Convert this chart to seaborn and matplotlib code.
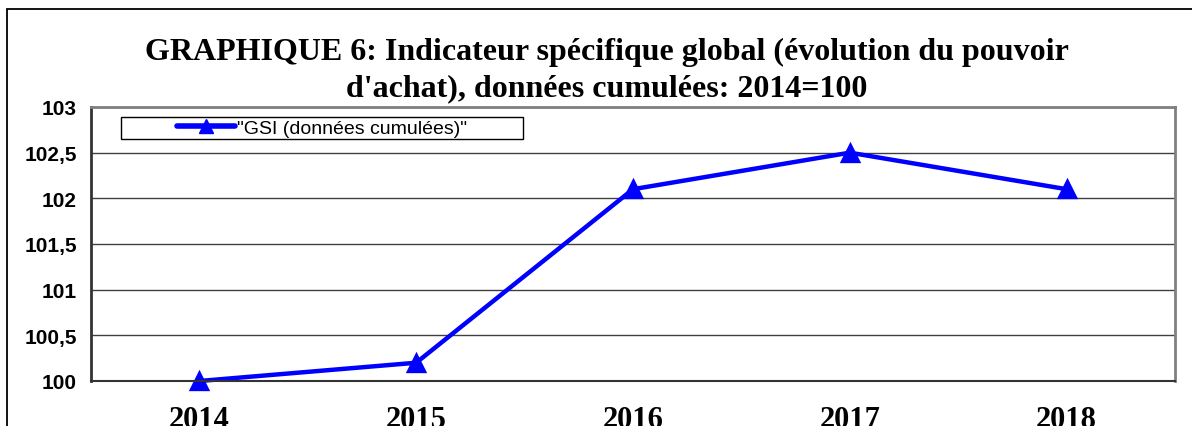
import numpy as np
import pandas as pd
import seaborn as sns
from matplotlib import pyplot as plt
from matplotlib.patches import Rectangle
from matplotlib.ticker import FuncFormatter

years = ["2014", "2015", "2016", "2017", "2018"]
gsi_values = [100.0, 100.2, 102.1, 102.5, 102.1]
series_label = '"GSI (données cumulées)"'
title_lines = ["GRAPHIQUE 6: Indicateur spécifique global (évolution du pouvoir",
               "d'achat), données cumulées: 2014=100"]

sns.set_style("white")
plt.rcParams["font.family"] = ["Liberation Sans", "DejaVu Sans"]
plt.rcParams["text.color"] = "black"
plt.rcParams["xtick.color"] = "black"
plt.rcParams["ytick.color"] = "black"

W, H = 1192, 427
fig = plt.figure(figsize=(W / 100, H / 100), dpi=100)
fig.patch.set_facecolor("white")

# outer chart border (runs off the right/bottom edges)
fig.patches.append(Rectangle((7 / W, -0.2), 1.2, 1 - 10 / H + 0.2,
                             transform=fig.transFigure, fill=False,
                             edgecolor="black", linewidth=1.3))

for i, line in enumerate(title_lines):
    fig.text(607 / W, 1 - (60 + 36 * i) / H, line, ha="center",
             va="baseline", family="Liberation Serif", fontweight="bold",
             fontsize=23, color="black")

ax = fig.add_axes([91 / W, (H - 382) / H, (1175 - 91) / W, (382 - 108) / H])
df = pd.DataFrame({"year": years, "gsi": gsi_values})
sns.pointplot(data=df, x="year", y="gsi", color="#0000FF", markers="^",
              markersize=11, linewidth=3.2, ax=ax)
for ln in ax.lines:
    ln.set_clip_on(False)

ax.set_xlim(-0.5, len(years) - 0.5)
ax.set_ylim(100, 103)
ax.set_yticks(np.arange(100, 103.01, 0.5))
ax.yaxis.set_major_formatter(FuncFormatter(
    lambda v, p: (f"{v:g}").replace(".", ",")))
ax.set_xlabel("")
ax.set_ylabel("")
ax.grid(axis="y", color="#404040", linewidth=1.0)
ax.set_axisbelow(True)

ax.set_xticks(np.arange(len(years)))
ax.set_xticklabels(years, family="Liberation Serif", fontweight="bold",
                   fontsize=22, color="black")
ax.set_xticks(np.arange(-0.5, len(years)), minor=True)
ax.tick_params(axis="x", which="major", length=0, pad=17)
ax.tick_params(axis="x", which="minor", length=8, width=1, color="black",
               direction="out")
ax.tick_params(axis="y", length=6, width=1.5, color="#333333",
               direction="out", pad=4)
for lab in ax.get_yticklabels():
    lab.set_fontweight("bold")
    lab.set_fontsize(15)
    lab.set_color("black")

ax.spines["left"].set_color("#333333")
ax.spines["left"].set_linewidth(2)
ax.spines["bottom"].set_color("#333333")
ax.spines["bottom"].set_linewidth(1.5)
ax.spines["top"].set_color("#808080")
ax.spines["top"].set_linewidth(2)
ax.spines["right"].set_color("#808080")
ax.spines["right"].set_linewidth(2)

# legend box
bx0, bx1 = (121 - 91) / 1084, (523 - 91) / 1084
by0, by1 = (382 - 140) / 274, (382 - 118) / 274
ax.add_patch(Rectangle((bx0, by0), bx1 - bx0, by1 - by0,
                       transform=ax.transAxes, facecolor="white",
                       edgecolor="black", linewidth=1, zorder=5))
handle = plt.Line2D([], [], color="#0000FF", marker="^", markersize=10,
                    linewidth=4)
leg = ax.legend([handle], [series_label], loc="center",
                bbox_to_anchor=((bx0 + bx1) / 2, (by0 + by1) / 2),
                frameon=False, fontsize=14, handlelength=3,
                handletextpad=0.1, borderpad=0)
leg.set_zorder(6)
for t in leg.get_texts():
    t.set_color("black")

fig.savefig("out.png", dpi=100)
